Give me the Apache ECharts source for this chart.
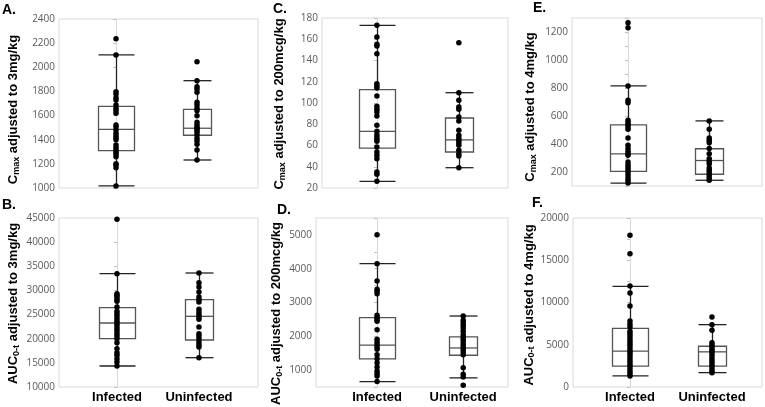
<!DOCTYPE html>
<html>
<head>
<meta charset="utf-8">
<script src="https://cdn.jsdelivr.net/npm/echarts@6/dist/echarts.min.js"></script>
<style>html,body{margin:0;padding:0;background:#fff}#c{width:765px;height:407px}</style>
</head>
<body>
<div id="c"></div>
<script>
// ---------- DATA ----------
const categories = ['Infected', 'Uninfected'];
const panelLetters = ['A.', 'B.', 'C.', 'D.', 'E.', 'F.'];
const yTitlesMain = ['C', 'AUC', 'C', 'AUC', 'C', 'AUC'];
const yTitlesSub = ['max', '0-t', 'max', '0-t', 'max', '0-t'];
const yTitlesRest = [' adjusted to 3mg/kg', ' adjusted to 3mg/kg', ' adjusted to 200mcg/kg', ' adjusted to 200mcg/kg', ' adjusted to 4mg/kg', ' adjusted to 4mg/kg'];

// Y axis: min, max, tick step, label step
const yMin = [1000, 10000, 20, 500, 100, 0];
const yMax = [2400, 45000, 180, 5500, 1300, 20000];
const yTick = [200, 5000, 20, 500, 100, 2500];
const yLabelStep = [200, 5000, 20, 1000, 200, 5000];

// Panel A: Cmax 3mg/kg
const A_infected = [2237, 2102, 1798, 1779, 1748, 1729, 1688, 1660, 1640, 1619, 1522, 1508, 1480, 1453, 1433, 1417, 1400, 1356, 1334, 1315, 1296, 1279, 1259, 1200, 1190, 1168, 1017];
const A_uninfected = [2046, 1889, 1839, 1820, 1793, 1710, 1688, 1660, 1640, 1599, 1544, 1522, 1503, 1490, 1480, 1461, 1440, 1412, 1389, 1362, 1315, 1232];
// box stats: [whisker low, Q1, median, Q3, whisker high]
const A_box_infected = [1017, 1309, 1486, 1677, 2102];
const A_box_uninfected = [1232, 1437, 1495, 1652, 1889];

// Panel B: AUC 3mg/kg
const B_infected = [44730, 33470, 29320, 28990, 28640, 28160, 27750, 26570, 25680, 25180, 24700, 24150, 23610, 23110, 22630, 22070, 21600, 21040, 20560, 20000, 19180, 17930, 17100, 16560, 15860, 15180, 14350];
const B_uninfected = [33610, 31600, 30710, 29670, 28640, 28080, 27600, 26090, 25530, 24970, 24500, 24020, 22430, 21040, 20560, 20000, 19320, 18760, 18280, 16070];
const B_box_infected = [14350, 20000, 23250, 26430, 33470];
const B_box_uninfected = [16070, 19730, 24640, 28080, 33610];

// Panel C: Cmax 200mcg/kg
const C_infected = [173.1, 162.1, 155.2, 153.6, 146.4, 118.2, 116, 114.1, 106.6, 96.9, 94.1, 91.5, 87.8, 79, 73.4, 70.2, 68, 65.8, 64, 58.6, 53.9, 50.8, 47.6, 35.1, 32.9, 26.3];
const C_uninfected = [156.8, 109.7, 102.5, 96.2, 94.1, 86.8, 83.1, 74.3, 69.6, 67, 64.9, 62.6, 60.2, 55.5, 52.3, 50.1, 39.1];
const C_box_infected = [26.3, 57.6, 73.3, 112.5, 173.1];
const C_box_uninfected = [39.1, 53.9, 65.3, 85.9, 109.7];

// Panel D: AUC 200mcg/kg
const D_infected = [5006, 4148, 3636, 3390, 3331, 3260, 2621, 2550, 2491, 2443, 2195, 1911, 1831, 1751, 1683, 1615, 1455, 1337, 1219, 1091, 973, 893, 825, 660];
const D_uninfected = [2600, 2473, 2402, 2325, 2245, 2147, 2047, 1979, 1911, 1831, 1751, 1683, 1615, 1535, 1455, 1071, 875, 795, 549];
const D_box_infected = [660, 1330, 1740, 2550, 4148];
const D_box_uninfected = [770, 1440, 1655, 1985, 2600];

// Panel E: Cmax 4mg/kg
const E_infected = [1266, 1231, 815, 712, 695, 569, 552, 538, 521, 505, 443, 391, 367, 348, 331, 319, 271, 252, 236, 219, 200, 181, 159, 141, 121];
const E_uninfected = [565, 505, 443, 426, 409, 367, 331, 295, 276, 259, 229, 212, 195, 176, 157, 141];
const E_box_infected = [121, 204, 330, 536, 815];
const E_box_uninfected = [141, 184, 282, 366, 565];

// Panel F: AUC 4mg/kg
const F_infected = [17950, 15780, 11950, 11130, 9590, 7810, 7420, 7100, 6600, 6310, 6040, 5720, 5410, 5130, 4860, 4540, 4230, 3950, 3670, 3350, 3050, 2760, 2490, 2170, 1860, 1580, 1310];
const F_uninfected = [8290, 7380, 6710, 5250, 5010, 4740, 4470, 4230, 3950, 3670, 3350, 3050, 2760, 2490, 2170, 1860, 1680];
const F_box_infected = [1310, 2470, 4250, 6930, 11900];
const F_box_uninfected = [1700, 2460, 4160, 4820, 7380];

const dotsInfected = [A_infected, B_infected, C_infected, D_infected, E_infected, F_infected];
const dotsUninfected = [A_uninfected, B_uninfected, C_uninfected, D_uninfected, E_uninfected, F_uninfected];
const boxInfected = [A_box_infected, B_box_infected, C_box_infected, D_box_infected, E_box_infected, F_box_infected];
const boxUninfected = [A_box_uninfected, B_box_uninfected, C_box_uninfected, D_box_uninfected, E_box_uninfected, F_box_uninfected];

// ---------- LAYOUT / STYLE ----------
const grids = [
  {left: 59, top: 19, width: 199, height: 169},
  {left: 59, top: 218, width: 199, height: 169},
  {left: 322, top: 18, width: 186, height: 170},
  {left: 316, top: 218, width: 192, height: 169},
  {left: 572, top: 18, width: 190, height: 168},
  {left: 573, top: 218, width: 189, height: 169}
];
const xRange = [[-0.704, 1.753], [-0.707, 1.72], [-0.67, 1.60], [-0.709, 1.52], [-0.69, 1.65], [-0.695, 1.61]];
const nameGaps = [38, 38, 35, 32, 34, 35];
const nameShift = [12, 2, 2, 22, 10, 5];
const letterPos = [[2, 3], [2, 198], [273, 2], [277, 203], [533, 1], [532, 196]];
const BOX_W = [36, 28];
const showXLabels = [false, true, false, true, false, true];

const chart = echarts.init(document.getElementById('c'), null, {renderer: 'canvas'});

function renderBox(params, api) {
  const x = api.value(0);
  const vals = [api.value(1), api.value(2), api.value(3), api.value(4), api.value(5)];
  const p = vals.map(v => api.coord([x, v]));
  const cx = Math.round(p[0][0]) + 0.5;
  const w = BOX_W[params.dataIndex];
  const h = w / 2;
  const ln = {stroke: '#222222', lineWidth: 1.3};
  const bx = {stroke: '#555555', lineWidth: 1.3, fill: 'rgba(0,0,0,0)'};
  return {
    type: 'group',
    children: [
      {type: 'line', shape: {x1: cx, y1: p[0][1], x2: cx, y2: p[1][1]}, style: ln},
      {type: 'line', shape: {x1: cx, y1: p[3][1], x2: cx, y2: p[4][1]}, style: ln},
      {type: 'rect', shape: {x: cx - h, y: p[3][1], width: w, height: p[1][1] - p[3][1]}, style: bx},
      {type: 'line', shape: {x1: cx - h, y1: p[2][1], x2: cx + h, y2: p[2][1]}, style: bx},
      {type: 'line', shape: {x1: cx - h, y1: p[0][1], x2: cx + h, y2: p[0][1]}, style: ln},
      {type: 'line', shape: {x1: cx - h, y1: p[4][1], x2: cx + h, y2: p[4][1]}, style: ln}
    ]
  };
}

const option = {
  animation: false,
  backgroundColor: '#fff',
  title: panelLetters.map((t, i) => ({
    text: t, left: letterPos[i][0], top: letterPos[i][1], padding: 0,
    textStyle: {fontFamily: 'Liberation Sans', fontSize: 14, fontWeight: 'bold', color: '#000'}
  })),
  grid: grids.map(g => Object.assign({show: true, borderColor: '#d9d9d9', borderWidth: 1, backgroundColor: '#fff'}, g)),
  xAxis: grids.map((g, i) => ({
    type: 'value', gridIndex: i, min: xRange[i][0], max: xRange[i][1],
    splitLine: {show: false}, axisLine: {show: false}, axisTick: {show: false},
    axisLabel: showXLabels[i] ? {
      show: true, customValues: [0, 1], margin: 4,
      formatter: v => categories[Math.round(v)],
      fontFamily: 'Liberation Sans', fontSize: 13, fontWeight: 'bold', color: '#000'
    } : {show: false}
  })),
  yAxis: grids.map((g, i) => ({
    type: 'value', gridIndex: i, min: yMin[i], max: yMax[i], interval: yTick[i],
    splitLine: {show: false},
    axisLine: {show: true, lineStyle: {color: '#d9d9d9'}},
    axisTick: {show: true, length: 3, lineStyle: {color: '#bfbfbf'}},
    axisLabel: {
      margin: 4, fontFamily: 'Open Sans', fontSize: 10, color: '#595959',
      formatter: v => (Math.abs(v % yLabelStep[i]) < 1e-9 && !(i === 3 && v === 500) && !(i === 4 && v === 100)) ? String(v) : ''
    },
    name: '{c|' + yTitlesMain[i] + '}{s|' + yTitlesSub[i] + '}{c|' + yTitlesRest[i] + '}',
    nameLocation: 'middle', nameRotate: 90, nameGap: nameGaps[i],
    nameTextStyle: {
      padding: [0, nameShift[i], 0, 0],
      rich: {
        c: {fontFamily: 'Liberation Sans', fontSize: 13, fontWeight: 'bold', color: '#000', lineHeight: 15},
        s: {fontFamily: 'Liberation Sans', fontSize: 9, fontWeight: 'bold', color: '#000', lineHeight: 15, verticalAlign: 'bottom', padding: [5, 0, 0, 0]}
      }
    }
  })),
  series: []
};

for (let i = 0; i < 6; i++) {
  option.series.push({
    type: 'custom', xAxisIndex: i, yAxisIndex: i, renderItem: renderBox, z: 2,
    data: [[0].concat(boxInfected[i]), [1].concat(boxUninfected[i])]
  });
  option.series.push({
    type: 'scatter', xAxisIndex: i, yAxisIndex: i, symbolSize: 5.5, z: 3,
    itemStyle: {color: '#000', opacity: 1},
    data: dotsInfected[i].map(v => [0, v]).concat(dotsUninfected[i].map(v => [1, v]))
  });
}

chart.setOption(option);
</script>
</body>
</html>
